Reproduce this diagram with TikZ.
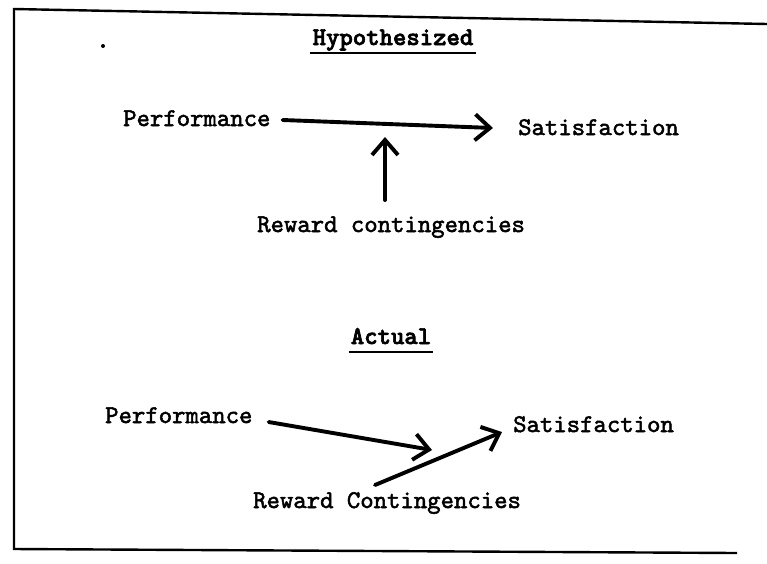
\documentclass[tikz,border=0pt]{standalone}
\usepackage{fontspec}
\usetikzlibrary{arrows.meta,calc}
\newfontfamily\bodyff{lmmono10-regular.otf}[FakeBold=2]
\newfontfamily\ttlff{lmmonolt10-bold.otf}[FakeBold=2.5]
\newcommand\bodyfnt{\fontsize{25.5}{30}\selectfont\bodyff}
\newcommand\ttlfnt{\fontsize{25.5}{30}\selectfont\ttlff}
\begin{document}
\begin{tikzpicture}[x=1pt,y=-1pt,
  lbl/.style={inner sep=0pt,anchor=base west,font=\bodyfnt},
  ttl/.style={inner sep=0pt,anchor=base,font=\ttlfnt},
  ul/.style={line width=2.8pt},
  arr/.style={line width=3.9pt,line cap=round,line join=round,
    -{Straight Barb[length=15pt,width=26pt,line width=3.9pt]}},
  frame/.style={line width=2.4pt}]
\useasboundingbox (0,0) rectangle (767,563);
% frame
\draw[frame] (767,24) -- (14,9) -- (14,549) -- (737,553);
% stray dot
\fill (103,46) circle (2);
% Hypothesized
\node[ttl] (hyp) at (393,45) {Hypothesized};
\draw[ul] ([xshift=-2pt,yshift=-8pt]hyp.base west) -- ([xshift=2pt,yshift=-8pt]hyp.base east);
\node[lbl] (p1) at (123,126) {Performance};
\node[lbl] (s1) at (518,135) {Satisfaction};
\node[lbl] (r1) at (257,232) {Reward contingencies};
\draw[arr] ($(p1.base east)+(12,-6)$) -- ($(s1.base west)+(-25,-7)$);
\draw[arr] ($(r1.base west)+(128,-32)$) -- ($(r1.base west)+(128,-95)$);
% Actual
\node[ttl] (act) at (391,344) {Actual};
\draw[ul] ([xshift=-2pt,yshift=-8pt]act.base west) -- ([xshift=2pt,yshift=-8pt]act.base east);
\node[lbl] (p2) at (105,423) {Performance};
\node[lbl] (s2) at (513,432) {Satisfaction};
\node[lbl] (r2) at (253,508) {Reward Contingencies};
\draw[arr] ($(p2.base east)+(16,-1)$) -- ($(s2.base west)+(-81,18)$);
\draw[arr] ($(r2.base west)+(122,-23)$) -- ($(s2.base west)+(-11,0)$);
\end{tikzpicture}
\end{document}
